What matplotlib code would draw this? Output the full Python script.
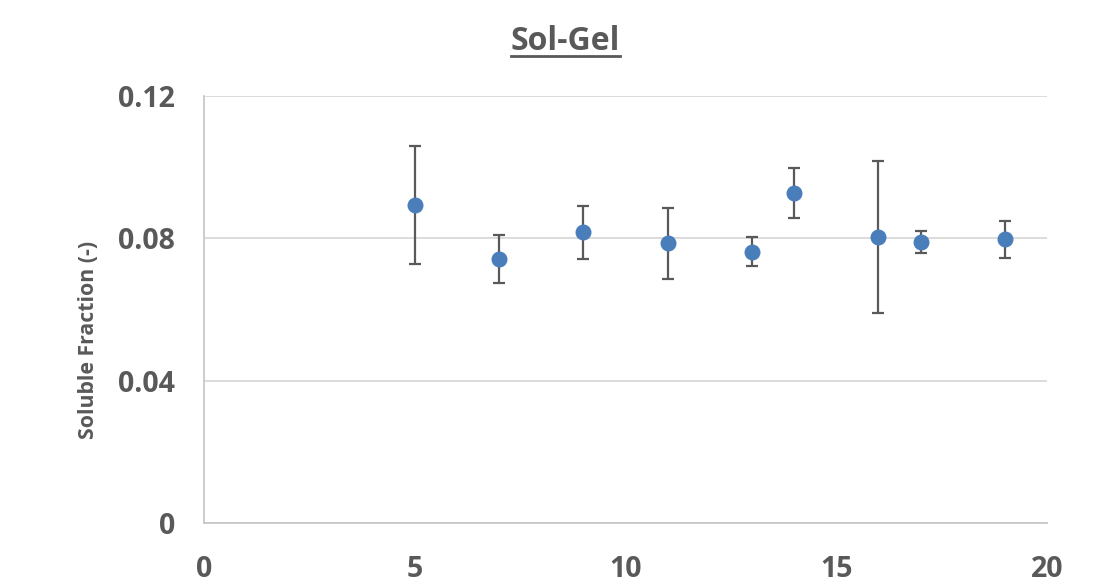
import matplotlib
matplotlib.use("Agg")
import matplotlib.pyplot as plt
from matplotlib.lines import Line2D

x_vals = [5, 7, 9, 11, 13, 14, 16, 17, 19]
soluble_fraction = [0.0894, 0.0742, 0.0817, 0.0786, 0.0763, 0.0928, 0.0804, 0.0790, 0.0798]
error = [0.0166, 0.0068, 0.0075, 0.0100, 0.0040, 0.0070, 0.0213, 0.0032, 0.0052]
x_ticks = [0, 5, 10, 15, 20]
y_ticks = [0, 0.04, 0.08, 0.12]
y_tick_labels = ["0", "0.04", "0.08", "0.12"]
title = "Sol-Gel"
y_label = "Soluble Fraction (-)"

plt.rcParams['font.family'] = ['Open Sans', 'DejaVu Sans']
txt = '#595959'

fig = plt.figure(figsize=(10.98, 5.86), dpi=100)
ax = fig.add_axes([0.1858, 0.1067, 0.7678, 0.7295])

ax.errorbar(x_vals, soluble_fraction, yerr=error, fmt='o', color='#4a7ebb',
            markersize=10.5, ecolor='#595959', elinewidth=1.6, capsize=4.5,
            capthick=1.6, zorder=3)

ax.set_xlim(0, 20)
ax.set_ylim(0, 0.12)
ax.set_xticks(x_ticks)
ax.set_xticklabels([str(t) for t in x_ticks])
ax.set_yticks(y_ticks)
ax.set_yticklabels(y_tick_labels)
ax.grid(axis='y', color='#d9d9d9', linewidth=1.3, zorder=0)
ax.set_axisbelow(True)
for s in ['top', 'right']:
    ax.spines[s].set_visible(False)
for s in ['left', 'bottom']:
    ax.spines[s].set_color('#c8c8c8')
    ax.spines[s].set_linewidth(1.3)
ax.tick_params(axis='both', length=0, labelsize=20.5, labelcolor=txt)
ax.tick_params(axis='x', pad=23)
ax.tick_params(axis='y', pad=21)
for lab in ax.get_xticklabels() + ax.get_yticklabels():
    lab.set_fontweight('bold')

ax.set_ylabel(y_label, fontsize=15.3, fontweight='bold', color=txt)
ax.yaxis.set_label_coords(-0.125, 0.43)

t = fig.text(0.515, 0.930, title, ha='center', va='center', fontsize=23,
             fontweight='bold', color=txt)
fig.canvas.draw()
bb = t.get_window_extent(renderer=fig.canvas.get_renderer())
inv = fig.transFigure.inverted()
(x0, y0), (x1, y1) = inv.transform([[bb.x0, bb.y0], [bb.x1, bb.y1]])
fig.add_artist(Line2D([x0, x1], [y0 + 0.003, y0 + 0.003], transform=fig.transFigure,
                      color=txt, linewidth=2.0))

fig.savefig('out.png', dpi=100, facecolor='white')
